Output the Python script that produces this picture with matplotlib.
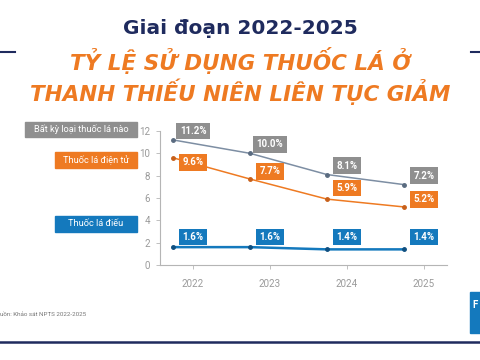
import matplotlib
matplotlib.use("Agg")
import matplotlib.pyplot as plt

years = ["2022", "2023", "2024", "2025"]
any_tobacco = [11.2, 10.0, 8.1, 7.2]
e_cig = [9.6, 7.7, 5.9, 5.2]
cigarette = [1.6, 1.6, 1.4, 1.4]
series_names = ["Bất kỳ loại thuốc lá nào", "Thuốc lá điện tử", "Thuốc lá điếu"]
yticks = [0, 2, 4, 6, 8, 10, 12]

GRAY_BOX = "#8f8f8f"
GRAY_LINE = "#7d8ea3"
ORANGE = "#ee7a22"
BLUE = "#1479bd"
NAVY = "#1f2b5e"

plt.rcParams['font.family'] = ['Roboto', 'DejaVu Sans']

fig = plt.figure(figsize=(4.8, 3.6), dpi=100)
fig.patch.set_facecolor("white")

# Titles
fig.text(0.5, 1 - 28/360, "Giai đoạn 2022-2025", ha="center", va="center",
         fontsize=14.5, fontweight="bold", color=NAVY, family=["DejaVu Sans"])
fig.text(0.5, 1 - 61/360, "TỶ LỆ SỬ DỤNG THUỐC LÁ Ở", ha="center", va="center",
         fontsize=15.5, fontweight="bold", style="italic", color=ORANGE,
         family=["DejaVu Sans"])
fig.text(0.5, 1 - 92/360, "THANH THIẾU NIÊN LIÊN TỤC GIẢM", ha="center", va="center",
         fontsize=15.5, fontweight="bold", style="italic", color=ORANGE,
         family=["DejaVu Sans"])
# side dashes
fig.add_artist(plt.Line2D([0.0, 15/480], [1 - 52/360] * 2, color=NAVY, lw=1.5))
fig.add_artist(plt.Line2D([471/480, 1.0], [1 - 52/360] * 2, color=NAVY, lw=1.5))
# bottom line
fig.add_artist(plt.Line2D([0.0, 1.0], [1 - 342/360] * 2, color=NAVY, lw=1.8))
# footer
fig.text(0.0, 1 - 314/360, "uồn: Khảo sát NPTS 2022-2025", ha="left", va="center",
         fontsize=4.5, color="#777777")
# right blue tab
fig.add_artist(plt.Rectangle((470/480, 1 - 333/360), 10/480, 41/360,
                             transform=fig.transFigure, color=BLUE))
fig.text(472/480, 1 - 305/360, "F", ha="left", va="center", fontsize=7,
         fontweight="bold", color="white")

ax = fig.add_axes([160/480, 1 - 265/360, 287/480, 134/360])
x = list(range(len(years)))
offset = -0.26
xp = [i + offset for i in x]

ax.plot(xp, any_tobacco, color=GRAY_LINE, lw=1.1, marker="o", ms=2.5, mfc="#5a6b80", mec="#5a6b80")
ax.plot(xp, e_cig, color=ORANGE, lw=1.1, marker="o", ms=2.5, mfc="#c8601a", mec="#c8601a")
ax.plot(xp, cigarette, color=BLUE, lw=1.8, marker="o", ms=2.5, mfc="#0f4f80", mec="#0f4f80")

ax.set_xlim(-0.43, 3.3)
ax.set_ylim(0, 12)
ax.set_xticks(x)
ax.set_xticklabels(years)
ax.set_yticks(yticks)
for s in ["top", "right"]:
    ax.spines[s].set_visible(False)
for s in ["left", "bottom"]:
    ax.spines[s].set_color("#b5b5b5")
    ax.spines[s].set_linewidth(0.8)
ax.tick_params(axis="both", colors="#b5b5b5", labelcolor="#9a9a9a", labelsize=7,
               length=3, width=0.6)
ax.tick_params(axis="x", pad=7)
ax.tick_params(axis="y", pad=4)

def box(color):
    return dict(boxstyle="square,pad=0.35", fc=color, ec="none")

gray_dy = 0.8
orange_dy = [-0.4, 0.7, 1.0, 0.7]
blue_dy = [0.9, 0.9, 1.1, 1.1]
for i in x:
    ax.text(i, any_tobacco[i] + gray_dy, f"{any_tobacco[i]:.1f}%", ha="center", va="center",
            fontsize=7, color="white", fontweight="bold", bbox=box(GRAY_BOX))
    ax.text(i, e_cig[i] + orange_dy[i], f"{e_cig[i]:.1f}%",
            ha="center", va="center", fontsize=7, color="white", fontweight="bold",
            bbox=box(ORANGE))
    ax.text(i, cigarette[i] + blue_dy[i], f"{cigarette[i]:.1f}%", ha="center", va="center",
            fontsize=7, color="white", fontweight="bold", bbox=box(BLUE))

# left labels as fixed-size boxes (pixel rectangles: x0, y0_top, x1, y1_bottom)
label_boxes = [(25, 122, 137, 137, GRAY_BOX), (55, 152, 137, 168, ORANGE),
               (55, 216, 137, 232, BLUE)]
for name, (x0, y0, x1, y1, c) in zip(series_names, label_boxes):
    fig.add_artist(plt.Rectangle((x0/480, 1 - y1/360), (x1 - x0)/480, (y1 - y0)/360,
                                 transform=fig.transFigure, color=c))
    fig.text((x0 + x1)/2/480, 1 - (y0 + y1)/2/360, name, ha="center", va="center",
             fontsize=6.7, color="white")

fig.savefig("out.png", dpi=100, facecolor="white")
